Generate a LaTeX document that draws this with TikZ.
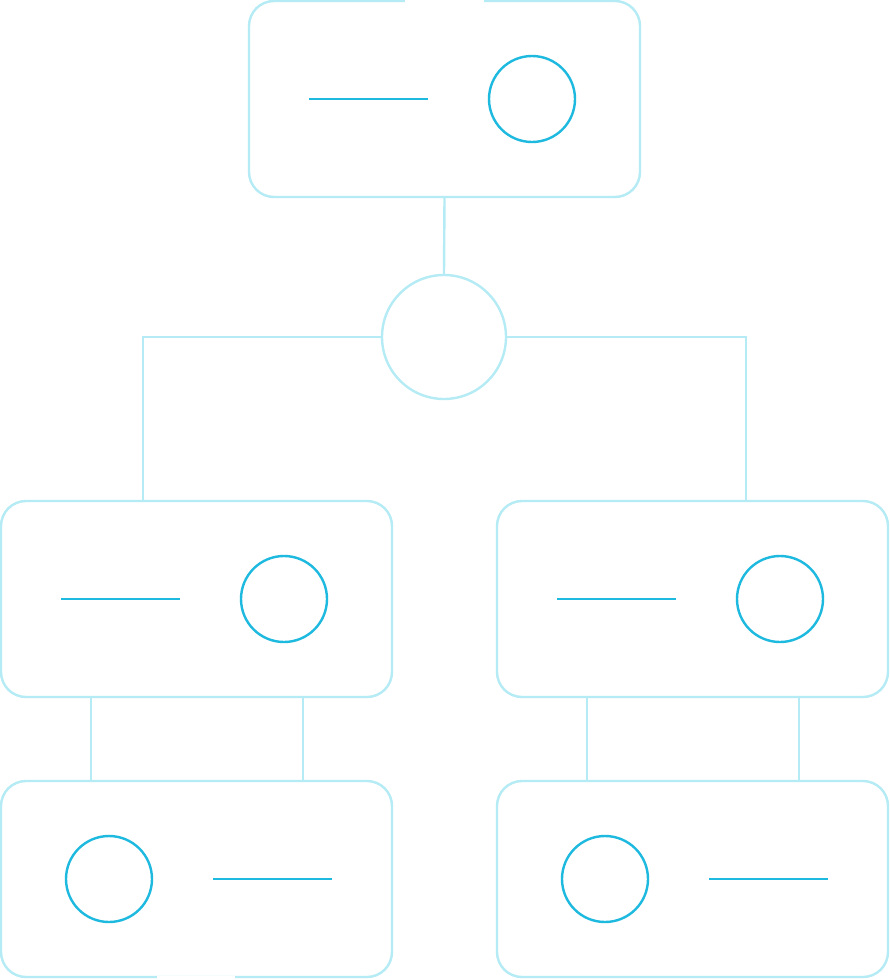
\documentclass[tikz,border=0pt]{standalone}
\usetikzlibrary{calc}
\definecolor{lightc}{HTML}{B5EBF4}
\definecolor{darkc}{HTML}{1DB9DF}
\begin{document}
\begin{tikzpicture}[x=1pt,y=-1pt,
  box/.style={draw=lightc,line width=2.4pt,rounded corners=25pt,minimum width=391pt,minimum height=196pt,inner sep=0pt,fill=white},
  dot/.style={draw=darkc,line width=2.4pt,circle,minimum size=86pt,inner sep=0pt},
  hubc/.style={draw=lightc,line width=2.4pt,circle,minimum size=124pt,inner sep=0pt},
  bar/.style={draw=darkc,line width=2.4pt},
  conn/.style={draw=lightc,line width=2.4pt}]
\useasboundingbox (0,0) rectangle (890,980);
% boxes
\node[box] (top) at (444.5,99) {};
\node[box] (ml) at (196.5,599) {};
\node[box] (mr) at (692.5,599) {};
\node[box] (bl) at (196.5,879) {};
\node[box] (br) at (692.5,879) {};
\node[hubc] (hub) at (444,337) {};
% gaps
\draw[white,line width=4pt] (405,1) -- (484,1);
\draw[white,line width=4pt] (157,977.5) -- (235,977.5);
% contents
\draw[bar] (309,99) -- (428,99);
\node[dot] (tc) at (532,99) {};
\draw[bar] (61,599) -- (180,599);
\node[dot] (mlc) at (284,599) {};
\draw[bar] (557,599) -- (676,599);
\node[dot] (mrc) at (780,599) {};
\node[dot] (blc) at (109,879) {};
\draw[bar] (213,879) -- (332,879);
\node[dot] (brc) at (605,879) {};
\draw[bar] (709,879) -- (828,879);
% connectors
\coordinate (mlt) at (143,501);
\coordinate (mrt) at (746,501);
\draw[conn] (top.south) -- (hub.north);
\draw[conn] (hub.west) -| (mlt);
\draw[conn] (hub.east) -| (mrt);
\coordinate (ml1) at (91,697); \coordinate (bl1) at (91,781);
\coordinate (ml2) at (303,697); \coordinate (bl2) at (303,781);
\coordinate (mr1) at (587,697); \coordinate (br1) at (587,781);
\coordinate (mr2) at (799,697); \coordinate (br2) at (799,781);
\draw[conn] (ml1) -- (bl1);
\draw[conn] (ml2) -- (bl2);
\draw[conn] (mr1) -- (br1);
\draw[conn] (mr2) -- (br2);
\end{tikzpicture}
\end{document}
